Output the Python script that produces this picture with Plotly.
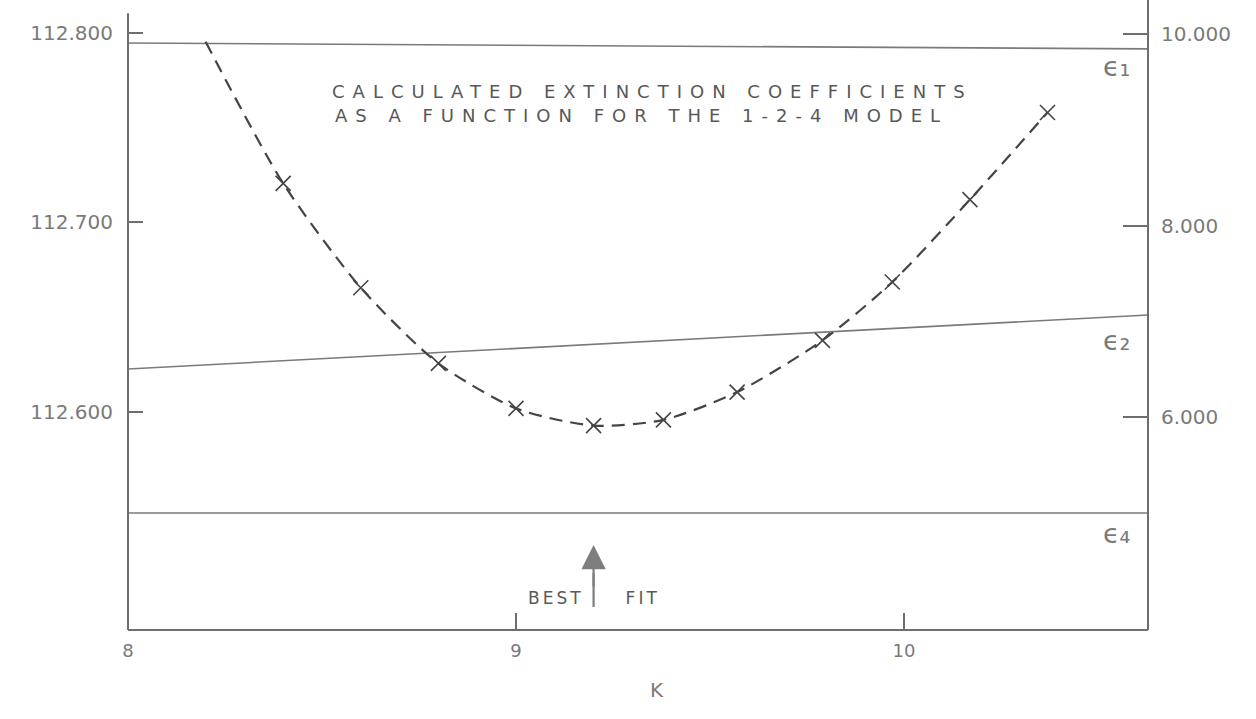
import plotly.graph_objects as go

# Calculated extinction coefficient along K (right-hand scale)
k_curve = [8.2, 8.4, 8.6, 8.8, 9.0, 9.2, 9.38, 9.57, 9.79, 9.97, 10.17, 10.37]
eps_curve = [9.92, 8.44, 7.35, 6.56, 6.09, 5.91, 5.97, 6.26, 6.80, 7.41, 8.27, 9.18]
# crosses are drawn on every computed point after the first
k_marked = k_curve[1:]
eps_marked = eps_curve[1:]

# straight reference coefficients (left-hand scale)
k_span = [8.0, 10.629]
eps1 = [112.7947, 112.7916]
eps2 = [112.6227, 112.6512]
eps4 = [112.5467, 112.5467]

k_best = 9.2

left_ticks = [112.6, 112.7, 112.8]
left_labels = ["112.600", "112.700", "112.800"]
right_ticks = [6, 8, 10]
right_labels = ["6.000", "8.000", "10.000"]
k_ticks = [8, 9, 10]
k_labels = ["8", "9", "10"]

INK = "#444444"
PENCIL = "#6e6e6e"
LIGHT = "#7a7a7a"
FONT = "DejaVu Sans"
NBSP = "\u00a0"


def spaced(s, px, size):
    return f'<span style="letter-spacing:{px}px;font-size:{size}px">{s}</span>'


fig = go.Figure()

for vals in (eps1, eps2, eps4):
    fig.add_trace(go.Scatter(
        x=k_span, y=vals, mode="lines",
        line=dict(color=LIGHT, width=1.6),
        hoverinfo="skip",
    ))

fig.add_trace(go.Scatter(
    x=k_curve, y=eps_curve, yaxis="y2", mode="lines",
    line=dict(color=INK, width=2.2, dash="13px,8px", shape="spline", smoothing=0.7),
    hoverinfo="skip",
))
fig.add_trace(go.Scatter(
    x=k_marked, y=eps_marked, yaxis="y2", mode="markers",
    marker=dict(symbol="x-thin-open", size=15, color=INK,
                line=dict(color=INK, width=1.6)),
    hoverinfo="skip",
))

side_font = dict(family=FONT, size=20, color=LIGHT)

fig.update_layout(
    width=1256, height=719,
    margin=dict(l=128, r=108, t=0, b=89),
    paper_bgcolor="white", plot_bgcolor="white",
    showlegend=False,
    xaxis=dict(
        range=[8.0, 10.629], tickvals=k_ticks,
        ticktext=k_labels, ticks="inside", ticklen=17, tickwidth=1.5,
        tickcolor=PENCIL, showgrid=False, zeroline=False, showline=False,
        tickfont=dict(family=FONT, size=18, color=LIGHT), ticklabelstandoff=8,
    ),
    yaxis=dict(
        range=[112.48496, 112.8174], tickvals=left_ticks,
        ticktext=left_labels,
        ticks="inside", ticklen=15, tickwidth=1.5, tickcolor=PENCIL,
        showgrid=False, zeroline=False, showline=False,
        tickfont=side_font, ticklabelstandoff=14,
    ),
    yaxis2=dict(
        range=[3.7755, 10.3551], overlaying="y", side="right",
        tickvals=right_ticks, ticktext=right_labels,
        ticks="inside", ticklen=25, tickwidth=1.5, tickcolor=PENCIL,
        showgrid=False, zeroline=False, showline=False,
        tickfont=side_font, ticklabelstandoff=12,
    ),
)

# frame of the graph paper
frame = dict(color=PENCIL, width=2)
fig.add_shape(type="line", xref="paper", yref="paper", x0=0, x1=0, y0=0, y1=0.979, line=frame)
fig.add_shape(type="line", xref="paper", yref="paper", x0=1, x1=1, y0=0, y1=1.0, line=frame)
fig.add_shape(type="line", xref="paper", yref="paper", x0=0, x1=1, y0=0, y1=0, line=frame)

title_font = dict(family=FONT, size=18, color="#585858")
fig.add_annotation(
    text=spaced("CALCULATED EXTINCTION COEFFICIENTS", 8, 18),
    xref="paper", yref="paper", x=0.198, y=0.854,
    xanchor="left", yanchor="middle", showarrow=False, font=title_font,
)
fig.add_annotation(
    text=spaced("AS A FUNCTION FOR THE 1-2-4 MODEL", 8, 18),
    xref="paper", yref="paper", x=0.201, y=0.817,
    xanchor="left", yanchor="middle", showarrow=False, font=title_font,
)

eps_font = dict(family=FONT, size=27, color=LIGHT)
for label, ypos in (("ϵ₁", 0.894), ("ϵ₂", 0.459), ("ϵ₄", 0.153)):
    fig.add_annotation(
        text=label, xref="paper", yref="paper", x=0.969, y=ypos,
        xanchor="center", yanchor="middle", showarrow=False, font=eps_font,
    )

# best-fit arrow, with its label split around the shaft
fig.add_annotation(
    x=k_best, xref="x", y=0.135, yref="paper",
    text=spaced("BEST" + NBSP * 5 + "FIT", 3, 17),
    font=dict(family=FONT, size=17, color="#5a5a5a"),
    showarrow=True, ax=0, ay=53, arrowhead=2, arrowsize=2.2,
    arrowwidth=2.2, arrowcolor="#7d7d7d", standoff=0,
)
fig.add_shape(
    type="line", xref="x", yref="paper", x0=k_best, x1=k_best,
    y0=0.0365, y1=0.09, line=dict(color="#7d7d7d", width=2.2),
)

fig.add_annotation(
    text="K", xref="paper", yref="paper", x=0.5186, y=-0.117,
    showarrow=False, font=dict(family=FONT, size=20, color=LIGHT),
)

fig.write_html("out.html")
